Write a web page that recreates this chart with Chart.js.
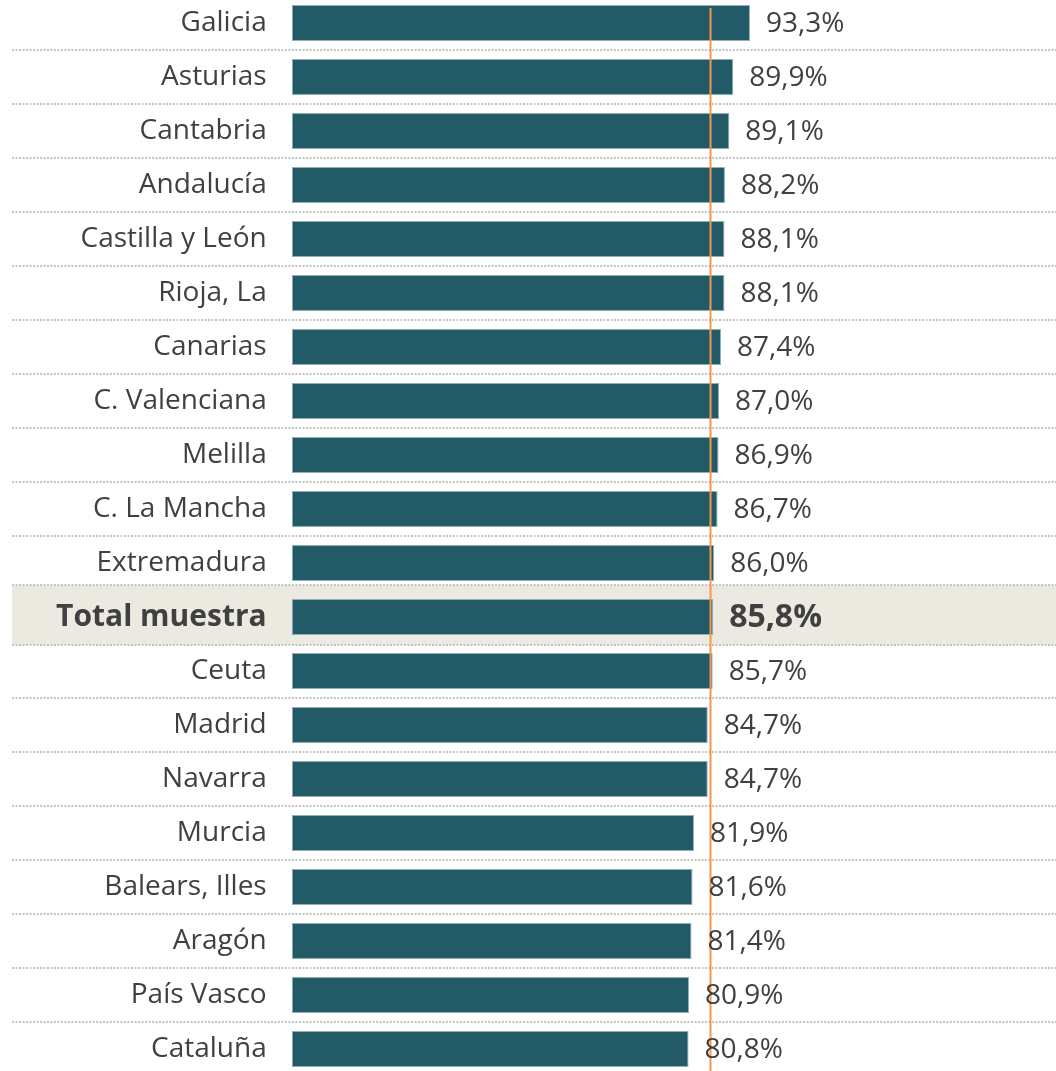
<!DOCTYPE html>
<html>
<head>
<meta charset="utf-8">
<script src="https://cdn.jsdelivr.net/npm/chart.js@4.4.1/dist/chart.umd.min.js"></script>
<style>
  html, body { margin: 0; padding: 0; background: #fff; overflow: hidden; }
  #wrap { position: absolute; left: 0; top: -4px; width: 1056px; height: 1080px; }
</style>
</head>
<body>
<div id="wrap"><canvas id="grafica"></canvas></div>
<script>
const comunidades = ['Galicia', 'Asturias', 'Cantabria', 'Andalucía', 'Castilla y León', 'Rioja, La',
  'Canarias', 'C. Valenciana', 'Melilla', 'C. La Mancha', 'Extremadura', 'Total muestra', 'Ceuta',
  'Madrid', 'Navarra', 'Murcia', 'Balears, Illes', 'Aragón', 'País Vasco', 'Cataluña'];
const porcentajes = [93.3, 89.9, 89.1, 88.2, 88.1, 88.1, 87.4, 87.0, 86.9, 86.7, 86.0, 85.8, 85.7,
  84.7, 84.7, 81.9, 81.6, 81.4, 80.9, 80.8];
const referencia = 85.2;
const totalIdx = comunidades.indexOf('Total muestra');

const fuente = "'Open Sans', sans-serif";
const gris = '#404040';

const fondoYLineas = {
  id: 'fondoYLineas',
  beforeDraw(chart) {
    const ctx = chart.ctx;
    const y = chart.scales.y;
    const paso = y.getPixelForValue(1) - y.getPixelForValue(0);
    ctx.save();
    // banda del total
    const yt = y.getPixelForValue(totalIdx);
    const arriba = Math.round(yt - paso / 2 - 5);
    const abajo = Math.round(yt + paso / 2 + 1);
    ctx.fillStyle = '#ECEAE0';
    ctx.fillRect(12, arriba, 1044, abajo - arriba);
    // separadores punteados
    ctx.strokeStyle = '#C4C4C4';
    ctx.lineWidth = 2;
    ctx.setLineDash([2, 1.5]);
    for (let i = 0; i < comunidades.length - 1; i++) {
      let yy = Math.round(y.getPixelForValue(i) + paso / 2);
      if (i === totalIdx - 1) yy = arriba;
      if (i === totalIdx) yy = abajo;
      ctx.beginPath();
      ctx.moveTo(12, yy);
      ctx.lineTo(1056, yy);
      ctx.stroke();
    }
    ctx.restore();
  },
  afterDatasetsDraw(chart) {
    const ctx = chart.ctx;
    const x = chart.scales.x;
    const meta = chart.getDatasetMeta(0);
    ctx.save();
    // linea de referencia
    const xr = Math.round(x.getPixelForValue(referencia)) + 0.5;
    ctx.strokeStyle = '#F79646';
    ctx.lineWidth = 2;
    ctx.beginPath();
    ctx.moveTo(xr, chart.chartArea.top + 12);
    ctx.lineTo(xr, chart.chartArea.bottom);
    ctx.stroke();
    // etiquetas de valor
    ctx.textBaseline = 'middle';
    ctx.textAlign = 'left';
    meta.data.forEach((bar, i) => {
      const total = i === totalIdx;
      ctx.font = (total ? 'bold 32px ' : '28px ') + fuente;
      ctx.fillStyle = gris;
      const txt = porcentajes[i].toFixed(1).replace('.', ',') + '%';
      ctx.fillText(txt, bar.x + 16, bar.y + 1);
    });
    ctx.restore();
  }
};

new Chart(document.getElementById('grafica'), {
  type: 'bar',
  data: {
    labels: comunidades,
    datasets: [{
      data: porcentajes,
      backgroundColor: '#235A68',
      borderColor: '#8FB0BA',
      borderWidth: 1,
      borderSkipped: false,
      categoryPercentage: 1,
      barPercentage: 0.667
    }]
  },
  options: {
    indexAxis: 'y',
    responsive: true,
    maintainAspectRatio: false,
    animation: false,
    layout: { padding: 0 },
    plugins: { legend: { display: false }, tooltip: { enabled: false } },
    scales: {
      x: {
        display: false,
        min: 0,
        max: 155.6
      },
      y: {
        afterFit(scale) {
          scale.width = 291.7;
          scale.paddingTop = 0;
          scale.paddingBottom = 0;
        },
        grid: { display: false },
        border: { display: false },
        ticks: {
          autoSkip: false,
          padding: 17,
          color: gris,
          font: (c) => c.index === totalIdx
            ? { family: fuente, size: 30, weight: 'bold' }
            : { family: fuente, size: 28 }
        }
      }
    }
  },
  plugins: [fondoYLineas]
});
</script>
</body>
</html>
